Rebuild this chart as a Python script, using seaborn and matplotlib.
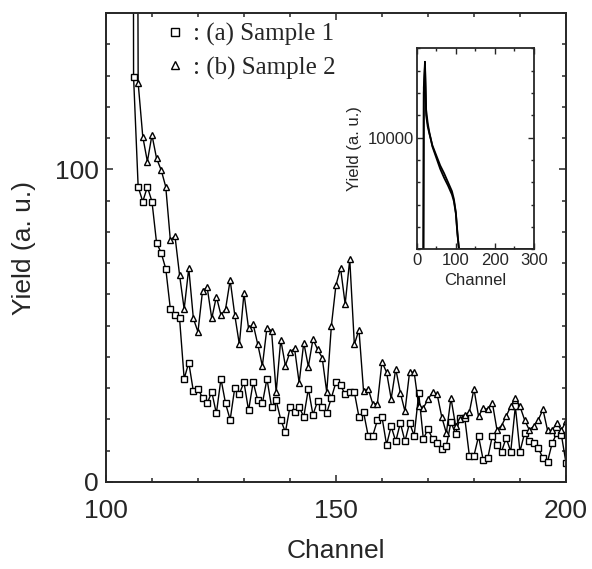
import matplotlib
matplotlib.use("Agg")
import matplotlib.pyplot as plt
from matplotlib.lines import Line2D
from matplotlib.ticker import MultipleLocator
import seaborn as sns
import pandas as pd

# main plot: yield per channel, two samples
ch_s1 = list(range(105, 201))
yield_s1 = [1400, 129.6, 94.4, 89.7, 94.4, 89.7, 76.5, 73.3, 68.2, 55.3,
            53.4, 52.3, 33.0, 38.2, 29.0, 29.8, 26.9, 25.1, 28.8, 21.9,
            33.0, 25.1, 19.9, 30.1, 28.2, 31.9, 22.9, 31.9, 26.1, 25.1,
            33.0, 24.0, 26.1, 19.9, 15.9, 24.0, 22.3, 24.0, 20.8, 29.8,
            21.5, 25.8, 24.0, 22.1, 26.9, 31.9, 30.9, 28.0, 28.7, 28.7,
            20.8, 22.3, 14.8, 14.8, 19.7, 20.8, 11.9, 17.8, 13.0, 18.9,
            13.0, 18.9, 14.8, 28.3, 13.7, 17.0, 13.7, 12.6, 10.5, 11.6,
            19.1, 15.4, 20.5, 20.5, 8.4, 8.4, 14.6, 7.1, 7.6, 14.8,
            11.9, 9.7, 14.1, 9.7, 24.2, 9.7, 15.6, 13.0, 12.4, 10.8,
            7.6, 6.5, 12.4, 15.6, 15.1, 6.2]

ch_s2 = list(range(106, 201))
yield_s2 = [600, 127.6, 110.5, 102.5, 111.0, 103.5, 99.8, 94.4, 77.3, 78.7,
            66.2, 55.3, 68.4, 52.3, 48.0, 61.2, 62.3, 52.3, 59.3, 53.4,
            55.3, 64.6, 53.4, 44.0, 60.4, 49.1, 50.5, 44.0, 37.1, 49.4,
            48.3, 28.7, 45.5, 37.2, 41.5, 42.7, 31.7, 44.6, 36.9, 45.7,
            42.4, 39.8, 28.7, 49.9, 63.0, 68.4, 56.9, 71.2, 44.0, 48.7,
            29.0, 29.8, 25.0, 25.0, 38.4, 35.1, 26.6, 36.2, 28.5, 22.6,
            35.1, 35.1, 24.2, 23.7, 26.4, 28.7, 28.0, 20.8, 15.6, 26.9,
            18.0, 20.2, 21.5, 22.3, 29.8, 21.0, 23.7, 23.2, 25.3, 16.7,
            18.0, 21.0, 24.2, 27.0, 24.2, 19.9, 16.7, 17.8, 19.9, 23.2,
            16.5, 16.5, 18.9, 16.5, 19.4]

# inset: full spectrum
inset_ch = [0, 17, 18, 21, 24, 28, 32, 40, 50, 60, 70, 80, 90, 95, 100, 104, 108, 120, 300]
inset_s1 = [0, 0, 14500, 16800, 12500, 11300, 10500, 9200, 8200, 7200, 6400, 5700, 4900, 4300, 3200, 1400, 0, 0, 0]
inset_s2 = [0, 0, 14000, 16500, 12000, 11000, 10400, 9300, 8400, 7500, 6800, 6000, 5200, 4500, 3300, 1500, 0, 0, 0]

legend_labels = [": (a) Sample 1", ": (b) Sample 2"]

df1 = pd.DataFrame({"Channel": ch_s1, "Yield": yield_s1})
df2 = pd.DataFrame({"Channel": ch_s2, "Yield": yield_s2})
dfi1 = pd.DataFrame({"Channel": inset_ch, "Yield": inset_s1})
dfi2 = pd.DataFrame({"Channel": inset_ch, "Yield": inset_s2})

sns.set_style("ticks")
plt.rcParams["font.family"] = ["Liberation Sans", "DejaVu Sans"]

fig = plt.figure(figsize=(5.92, 5.69), dpi=100)
ax = fig.add_axes([0.179, 0.153, 0.777, 0.824])

line_kw = dict(color="black", linewidth=1.0, markerfacecolor="white",
               markeredgecolor="black", markeredgewidth=1.0, estimator=None)
sns.lineplot(x="Channel", y="Yield", data=df1, ax=ax, marker="s", markersize=4.5, **line_kw)
sns.lineplot(x="Channel", y="Yield", data=df2, ax=ax, marker="^", markersize=4.8, **line_kw)

ax.set_xlim(100, 200)
ax.set_ylim(0, 150)
ax.set_xticks([100, 150, 200])
ax.set_yticks([0, 100])
ax.xaxis.set_minor_locator(MultipleLocator(10))
ax.yaxis.set_minor_locator(MultipleLocator(10))
ax.tick_params(which="both", direction="in", top=True, right=True, width=1.1)
ax.tick_params(which="major", length=5)
ax.tick_params(which="minor", length=3)
ax.tick_params(axis="x", labelsize=19, pad=12)
ax.tick_params(axis="y", labelsize=19, pad=5)
ax.set_xlabel("Channel", fontsize=19, labelpad=12)
ax.set_ylabel("Yield (a. u.)", fontsize=19, labelpad=14)
for sp in ax.spines.values():
    sp.set_visible(True)
    sp.set_linewidth(1.4)

handles = [Line2D([], [], linestyle="none", marker="s", markersize=5.5,
                  markerfacecolor="white", markeredgecolor="black", markeredgewidth=1.0),
           Line2D([], [], linestyle="none", marker="^", markersize=5.5,
                  markerfacecolor="white", markeredgecolor="black", markeredgewidth=1.0)]
ax.legend(handles, legend_labels, loc="upper left", bbox_to_anchor=(0.279, 0.959),
          bbox_transform=fig.transFigure, frameon=False, borderpad=0, borderaxespad=0,
          handlelength=0.8, handletextpad=0.3, labelspacing=0.4,
          prop={"family": "Liberation Serif", "size": 18})

# inset
axi = fig.add_axes([0.704, 0.562, 0.198, 0.353])
sns.lineplot(x="Channel", y="Yield", data=dfi1, ax=axi, color="black", linewidth=1.3, estimator=None)
sns.lineplot(x="Channel", y="Yield", data=dfi2, ax=axi, color="black", linewidth=1.3, estimator=None)
axi.set_xlim(0, 300)
axi.set_ylim(0, 18000)
axi.set_xticks([0, 100, 200, 300])
axi.set_yticks([10000])
axi.xaxis.set_minor_locator(MultipleLocator(50))
axi.yaxis.set_minor_locator(MultipleLocator(2000))
axi.tick_params(which="both", direction="in", top=True, right=True, width=1.0)
axi.tick_params(which="major", length=4)
axi.tick_params(which="minor", length=2)
axi.tick_params(axis="x", labelsize=12, pad=3)
axi.tick_params(axis="y", labelsize=12, pad=2)
axi.set_xlabel("Channel", fontsize=12, labelpad=3)
axi.set_ylabel("Yield (a. u.)", fontsize=12, labelpad=4)
for sp in axi.spines.values():
    sp.set_visible(True)
    sp.set_linewidth(1.3)

fig.savefig("out.png", dpi=100)
